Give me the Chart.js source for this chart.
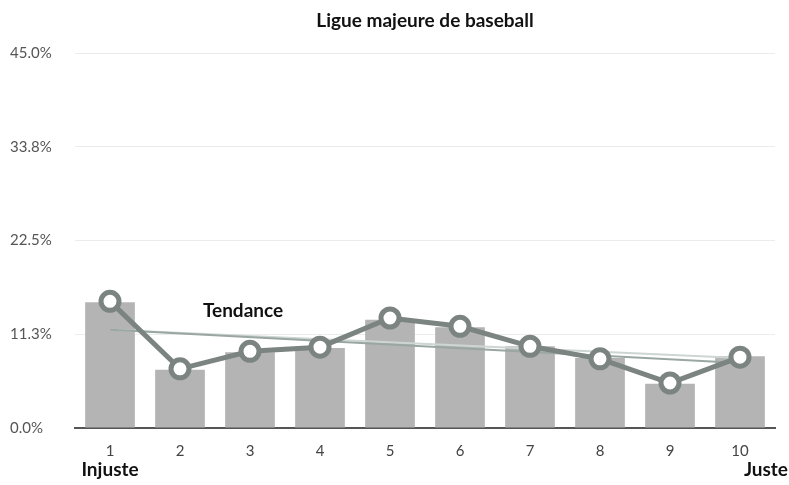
<!DOCTYPE html>
<html>
<head>
<meta charset="utf-8">
<script src="https://cdn.jsdelivr.net/npm/chart.js@4/dist/chart.umd.min.js"></script>
<style>
  html, body { margin: 0; padding: 0; background: #fff; }
  #wrap { width: 789px; height: 485px; }
</style>
</head>
<body>
<div id="wrap"><canvas id="myChart" width="789" height="485"></canvas></div>
<script>
// Data
categories = ['1', '2', '3', '4', '5', '6', '7', '8', '9', '10'];
barValues = [15.1, 7.0, 9.1, 9.6, 13.0, 12.1, 9.8, 8.4, 5.3, 8.6];
lineValues = [15.2, 7.1, 9.2, 9.7, 13.2, 12.2, 9.8, 8.3, 5.4, 8.5];
trendA = [11.8, null, null, null, null, null, null, null, null, 7.8];
trendB = [11.8, null, null, null, null, null, null, null, null, 8.4];
yTicks = [0, 11.25, 22.5, 33.75, 45];

font = 'Lato, "Open Sans", sans-serif';

//Title + extra labels: Tendance, Injuste, Juste
const extraText = {
  id: 'extraText',
  afterDraw(chart) {
    const ctx = chart.ctx;
    const x = chart.scales.x;
    const y = chart.scales.y;
    const area = chart.chartArea;
    ctx.save();
    ctx.fillStyle = '#111';
    ctx.textBaseline = 'middle';
    ctx.textAlign = 'center';
    ctx.font = 'bold 19px ' + font;
    ctx.fillText('Ligue majeure de baseball', (area.left + area.right) / 2, 21);
    ctx.fillText('Tendance', x.getPixelForValue(1) + 63, y.getPixelForValue(14.1));
    ctx.fillText('Injuste', x.getPixelForValue(0), 470);
    ctx.textAlign = 'right';
    ctx.fillText('Juste', 788, 470);
    ctx.restore();
  }
};

const data = {
  labels: categories,
  datasets: [
    {
      type: 'line',
      label: 'Tendance A',
      data: trendA,
      borderColor: '#9aa7a1',
      borderWidth: 2,
      pointRadius: 0,
      spanGaps: true,
      order: 2
    },
    {
      type: 'line',
      label: 'Tendance B',
      data: trendB,
      borderColor: '#cdd6d2',
      borderWidth: 2,
      pointRadius: 0,
      spanGaps: true,
      order: 3
    },
    {
      type: 'line',
      label: 'Série',
      data: lineValues,
      borderColor: '#7b8480',
      borderWidth: 5,
      pointRadius: 9,
      pointBorderWidth: 5,
      pointBackgroundColor: '#fff',
      pointBorderColor: '#7b8480',
      order: 1
    },
    {
      type: 'bar',
      label: 'Barres',
      data: barValues,
      backgroundColor: '#b4b4b4',
      barPercentage: 0.71,
      categoryPercentage: 1,
      order: 4
    }
  ]
};

const config = {
  type: 'bar',
  data: data,
  plugins: [extraText],
  options: {
    responsive: false,
    animation: false,
    layout: { padding: { left: 10, right: 8, top: 53, bottom: 0 } },
    plugins: {
      legend: { display: false },
      tooltip: { enabled: false },
      title: { display: false }
    },
    scales: {
      x: {
        afterFit(scale) { scale.height = 57; },
        grid: { display: false },
        border: { color: '#555', width: 2 },
        ticks: { color: '#444', font: { family: font, size: 15 }, padding: 6 }
      },
      y: {
        min: 0,
        max: 45,
        afterFit(scale) { scale.width = 65; },
        afterBuildTicks(scale) { scale.ticks = yTicks.map(v => ({ value: v })); },
        grid: { color: '#ececec', drawTicks: false },
        border: { display: false },
        ticks: {
          color: '#555',
          font: { family: font, size: 15 },
          padding: 40,
          crossAlign: 'far',
          callback: v => v.toFixed(1) + '%'
        }
      }
    }
  }
};

const myChart = new Chart(document.getElementById('myChart'), config);
</script>
</body>
</html>
